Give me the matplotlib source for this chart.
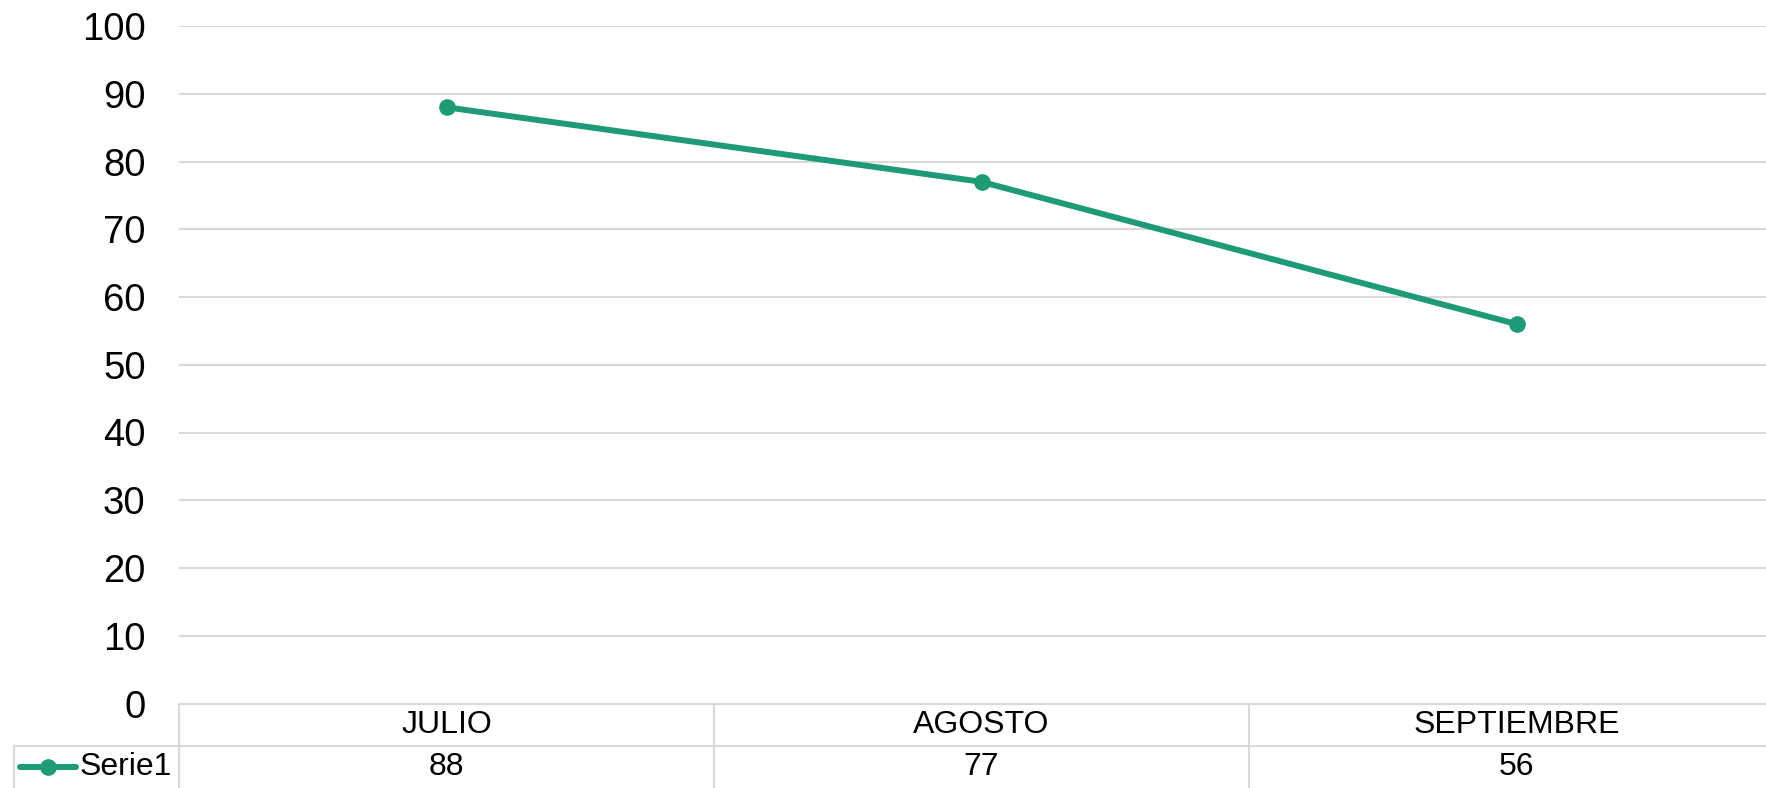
import matplotlib
matplotlib.use("Agg")
import matplotlib.pyplot as plt
from matplotlib.lines import Line2D
from matplotlib.transforms import blended_transform_factory

plt.rcParams['font.family'] = ['Liberation Sans', 'DejaVu Sans']

months = ['JULIO', 'AGOSTO', 'SEPTIEMBRE']
serie1 = [88, 77, 56]
series_name = 'Serie1'
y_ticks = [0, 10, 20, 30, 40, 50, 60, 70, 80, 90, 100]

W, H = 1766, 788
color = '#1E9B76'
grid_color = '#D9D9D9'
line_w = 4.3
mark_s = 11

fig = plt.figure(figsize=(W / 100, H / 100), dpi=100)
# plot area in pixels: left 179, right 1784 (runs off the image), top 26, bottom 703.5
ax = fig.add_axes([179 / W, 1 - 703.5 / H, (1784 - 179) / W, (703.5 - 26) / H])

x = [i + 0.5 for i in range(len(months))]
ax.plot(x, serie1, color=color, lw=line_w, marker='o', ms=mark_s, solid_capstyle='round')

ax.set_xlim(0, len(months))
ax.set_ylim(0, 100)
ax.set_yticks(y_ticks)
ax.set_xticks([])
ax.tick_params(axis='y', length=0, pad=24, labelsize=27.5)
ax.yaxis.grid(True, color=grid_color, lw=1.5)
ax.set_axisbelow(True)
for s in ax.spines.values():
    s.set_visible(False)

# data table below the plot
bt = blended_transform_factory(ax.transData, fig.transFigure)
def fy(py):
    return 1 - py / H

lw = 1.5
fig.add_artist(Line2D([179 / W, 1], [fy(703.5), fy(703.5)], color=grid_color, lw=lw))
fig.add_artist(Line2D([14 / W, 1], [fy(746), fy(746)], color=grid_color, lw=lw))
fig.add_artist(Line2D([14 / W, 14 / W], [fy(746), 0], color=grid_color, lw=lw))
fig.add_artist(Line2D([179 / W, 179 / W], [fy(703.5), 0], color=grid_color, lw=lw))
for i in range(1, len(months) + 1):
    fig.add_artist(Line2D([i, i], [fy(703.5), 0], color=grid_color, lw=lw, transform=bt))

for xi, m, v in zip(x, months, serie1):
    fig.text(xi, fy(725), m, transform=bt, ha='center', va='center', fontsize=23)
    fig.text(xi, fy(767), str(v), transform=bt, ha='center', va='center', fontsize=23)

# legend key in the table
fig.add_artist(Line2D([20 / W, 76 / W], [fy(767), fy(767)], color=color, lw=line_w,
                      solid_capstyle='round'))
fig.add_artist(Line2D([48 / W], [fy(767)], color=color, marker='o', ms=mark_s))
fig.text(80 / W, fy(767), series_name, ha='left', va='center', fontsize=23)

fig.savefig('out.png', dpi=100)
